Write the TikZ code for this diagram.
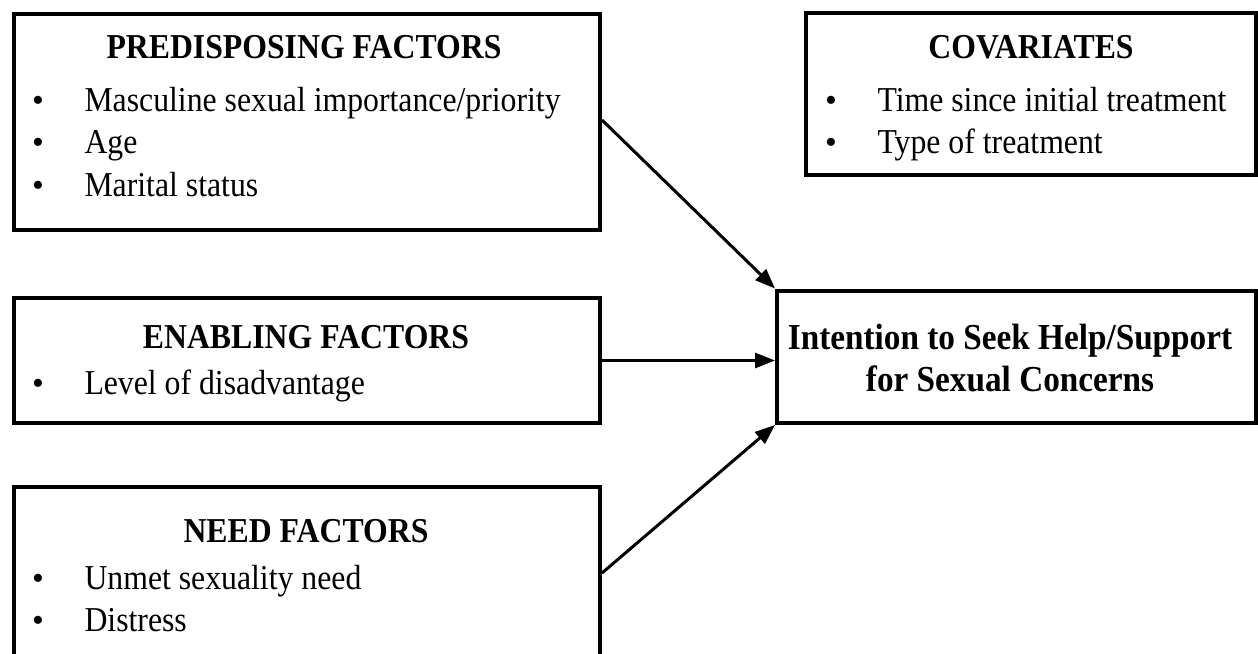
\documentclass[tikz,border=0pt]{standalone}
\usepackage{fontspec}
\setmainfont{Liberation Serif}
\usetikzlibrary{fit,arrows.meta}
\newcommand{\tall}[1]{\scalebox{1}[1.1]{#1}}
\begin{document}
\begin{tikzpicture}[x=0.4pt,y=-0.4pt,
 box/.style={draw=black,line width=1.6pt,inner sep=0pt,rectangle},
 title/.style={font=\fontsize{12.7}{15}\selectfont\bfseries,anchor=base,inner sep=0pt},
 bigtitle/.style={font=\fontsize{13.3}{16}\selectfont\bfseries,anchor=base,inner sep=0pt},
 item/.style={font=\fontsize{12.7}{15}\selectfont,anchor=base west,inner sep=0pt},
 bul/.style={font=\fontsize{13.5}{15}\selectfont,anchor=base,inner sep=0pt},
 arr/.style={line width=1.2pt,-{Triangle[length=8pt,width=6pt]}}]
\clip (0,0) rectangle (1258,653);
\fill[white] (0,0) rectangle (1258,653);
% boxes
\node[box,fit={(13.5,14) (600,230)}] (pre) {};
\node[box,fit={(13.5,298) (600,423)}] (enab) {};
\node[box,fit={(13.5,487) (600,680)}] (need) {};
\node[box,fit={(806,13) (1256,175)}] (cov) {};
\node[box,fit={(777,290.5) (1256,423)}] (int) {};
% predisposing
\node[title] (preT) at (304,58) {\tall{PREDISPOSING FACTORS}};
\node[bul] (preB1) at (38,111) {•};
\node[item] (preI1) at (84,111) {\tall{Masculine sexual importance/priority}};
\node[bul] (preB2) at (38,153.5) {•};
\node[item] (preI2) at (84,153.5) {\tall{Age}};
\node[bul] (preB3) at (38,196) {•};
\node[item] (preI3) at (84,196) {\tall{Marital status}};
% enabling
\node[title] (enabT) at (306,348) {\tall{ENABLING FACTORS}};
\node[bul] (enabB1) at (38,394) {•};
\node[item] (enabI1) at (84,394) {\tall{Level of disadvantage}};
% need
\node[title] (needT) at (306,542) {\tall{NEED FACTORS}};
\node[bul] (needB1) at (38,589) {•};
\node[item] (needI1) at (84,589) {\tall{Unmet sexuality need}};
\node[bul] (needB2) at (38,631.5) {•};
\node[item] (needI2) at (84,631.5) {\tall{Distress}};
% covariates
\node[title] (covT) at (1031,58) {\tall{COVARIATES}};
\node[bul] (covB1) at (831,111) {•};
\node[item] (covI1) at (877,111) {\tall{Time since initial treatment}};
\node[bul] (covB2) at (831,153.5) {•};
\node[item] (covI2) at (877,153.5) {\tall{Type of treatment}};
% intention
\node[bigtitle] (intT1) at (1010,349) {\tall{Intention to Seek Help/Support}};
\node[bigtitle] (intT2) at (1010,391) {\tall{for Sexual Concerns}};
% arrows
\coordinate (y1) at (0,120);
\coordinate (y3) at (0,573);
\draw[arr] (pre.east |- y1) -- (int.north west);
\draw[arr] (enab.east) -- (enab.east -| int.west);
\draw[arr] (need.east |- y3) -- (int.south west);
\end{tikzpicture}
\end{document}
